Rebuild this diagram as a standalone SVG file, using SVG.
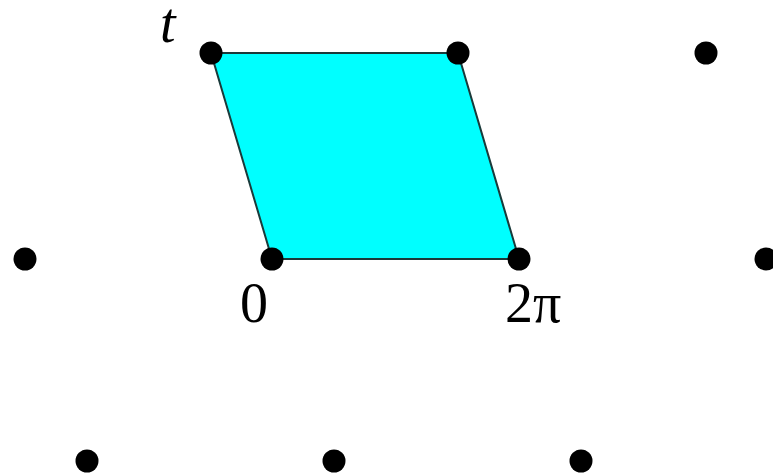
<svg xmlns="http://www.w3.org/2000/svg" width="773" height="473" viewBox="0 0 773 473">
<style>
.dot{fill:#000}
.lbl{font-family:"Liberation Serif",serif;font-size:56px;fill:#000}
</style>
<rect width="773" height="473" fill="#fff"/>
<g id="cell">
<polygon points="211,53 458,53 519,259 272,259" fill="#00ffff" stroke="#1a3a3a" stroke-width="2"/>
</g>
<g id="connectors"></g>
<g id="dots">
<circle id="p1" class="dot" cx="211" cy="53" r="11.5"/>
<circle id="p2" class="dot" cx="458" cy="53" r="11.5"/>
<circle id="p3" class="dot" cx="706" cy="53" r="11.5"/>
<circle id="p4" class="dot" cx="25" cy="259" r="11.5"/>
<circle id="p5" class="dot" cx="272" cy="259" r="11.5"/>
<circle id="p6" class="dot" cx="519" cy="259" r="11.5"/>
<circle id="p7" class="dot" cx="766" cy="259" r="11.5"/>
<circle id="p8" class="dot" cx="87" cy="461" r="11.5"/>
<circle id="p9" class="dot" cx="334" cy="461" r="11.5"/>
<circle id="p10" class="dot" cx="581" cy="461" r="11.5"/>
</g>
<g id="labels">
<text class="lbl" x="160" y="42" font-size="45" font-style="italic">t</text>
<text class="lbl" x="240" y="322">0</text>
<text class="lbl" x="505" y="322">2π</text>
</g>
</svg>
